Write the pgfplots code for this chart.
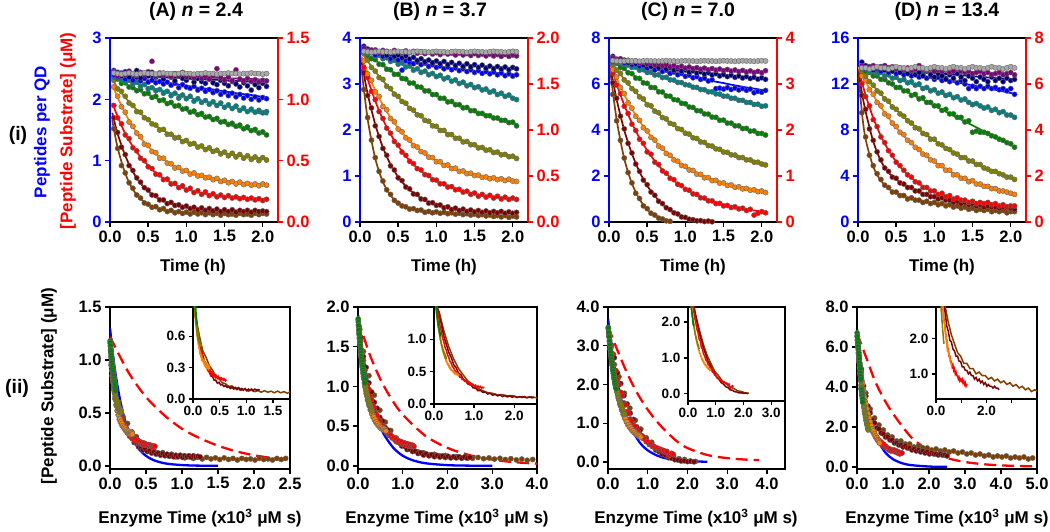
\documentclass[border=0pt]{standalone}
\usepackage{fontspec}
\setmainfont{Liberation Sans}
\usepackage{pgfplots}
\usepackage{pgfplotstable}
\pgfplotsset{compat=1.18}

\definecolor{cgr}{RGB}{170,170,170}
\definecolor{cpu}{RGB}{128,0,128}
\definecolor{cnv}{RGB}{0,0,128}
\definecolor{cbl}{RGB}{0,0,255}
\definecolor{cte}{RGB}{0,128,128}
\definecolor{cgn}{RGB}{0,128,0}
\definecolor{col}{RGB}{128,128,0}
\definecolor{cor}{RGB}{255,128,0}
\definecolor{crd}{RGB}{255,0,0}
\definecolor{cdr}{RGB}{128,0,0}
\definecolor{cbr}{RGB}{128,64,0}

\newcommand{\ticfont}{\fontsize{16.5}{17}\selectfont\bfseries}
\newcommand{\insfont}{\fontsize{13.5}{14}\selectfont\bfseries}
\newcommand{\labfont}{\fontsize{17}{18}\selectfont\bfseries}
\newcommand{\titfont}{\fontsize{19.5}{21}\selectfont\bfseries}

% ---------- Panel A (peptides per QD) ----------
\pgfplotstableread{
t gr pu nv bl te gn ol or rd dr br
0.05 2.43 2.45 2.47 2.40 2.37 2.36 2.31 2.20 1.90 1.70 1.52
0.10 2.42 2.38 2.44 2.36 2.35 2.33 2.17 2.05 1.70 1.46 1.20
0.15 2.41 2.43 2.38 2.41 2.32 2.26 2.13 1.88 1.60 1.22 0.92
0.20 2.42 2.40 2.45 2.33 2.29 2.27 2.05 1.79 1.42 1.10 0.80
0.25 2.43 2.46 2.36 2.37 2.31 2.20 1.94 1.63 1.36 0.92 0.64
0.30 2.42 2.41 2.42 2.31 2.25 2.19 1.90 1.56 1.21 0.84 0.55
0.35 2.41 2.39 2.47 2.36 2.28 2.14 1.80 1.45 1.16 0.72 0.44
0.40 2.42 2.44 2.35 2.30 2.21 2.16 1.79 1.39 1.04 0.65 0.39
0.45 2.43 2.40 2.41 2.34 2.24 2.09 1.70 1.27 1.00 0.56 0.31
0.50 2.42 2.45 2.38 2.28 2.17 2.10 1.67 1.25 0.90 0.52 0.29
0.55 2.42 2.62 2.44 2.31 2.19 2.03 1.60 1.15 0.87 0.44 0.24
0.60 2.41 2.38 2.36 2.27 2.14 2.05 1.58 1.13 0.78 0.43 0.25
0.65 2.42 2.43 2.40 2.29 2.16 1.98 1.50 1.04 0.77 0.36 0.20
0.70 2.43 2.39 2.33 2.25 2.10 1.99 1.51 1.04 0.69 0.36 0.22
0.75 2.42 2.41 2.41 2.28 2.13 1.93 1.43 0.96 0.70 0.30 0.17
0.80 2.42 2.37 2.36 2.23 2.06 1.95 1.43 0.95 0.62 0.32 0.19
0.85 2.41 2.42 2.30 2.26 2.10 1.89 1.37 0.88 0.63 0.27 0.15
0.90 2.42 2.38 2.39 2.19 2.02 1.90 1.38 0.89 0.56 0.28 0.17
0.95 2.43 2.44 2.34 2.24 2.07 1.84 1.31 0.83 0.59 0.24 0.14
1.00 2.42 2.36 2.31 2.20 2.01 1.85 1.33 0.84 0.52 0.26 0.16
1.05 2.42 2.40 2.37 2.18 2.05 1.79 1.27 0.78 0.55 0.22 0.13
1.10 2.41 2.35 2.28 2.21 1.97 1.81 1.28 0.80 0.48 0.24 0.16
1.15 2.42 2.39 2.34 2.15 2.01 1.75 1.22 0.75 0.51 0.20 0.13
1.20 2.42 2.34 2.29 2.18 1.95 1.77 1.24 0.76 0.45 0.23 0.15
1.25 2.43 2.37 2.26 2.13 1.98 1.71 1.18 0.72 0.49 0.19 0.12
1.30 2.42 2.33 2.33 2.16 1.92 1.72 1.21 0.73 0.43 0.22 0.15
1.35 2.42 2.38 2.27 2.11 1.96 1.67 1.15 0.69 0.46 0.18 0.12
1.40 2.41 2.50 2.24 2.14 1.90 1.69 1.17 0.71 0.41 0.21 0.14
1.45 2.42 2.35 2.31 2.08 1.94 1.63 1.11 0.66 0.44 0.17 0.11
1.50 2.42 2.31 2.26 2.12 1.87 1.64 1.14 0.68 0.40 0.20 0.14
1.55 2.43 2.36 2.22 2.06 1.91 1.59 1.08 0.64 0.43 0.17 0.12
1.60 2.42 2.30 2.29 2.10 1.85 1.61 1.12 0.66 0.39 0.20 0.13
1.65 2.42 2.48 2.25 2.04 1.89 1.56 1.06 0.62 0.41 0.16 0.11
1.70 2.41 2.33 2.20 2.08 1.82 1.58 1.10 0.65 0.38 0.19 0.14
1.75 2.42 2.30 2.27 2.02 1.86 1.52 1.04 0.61 0.40 0.17 0.12
1.80 2.42 2.34 2.22 2.06 1.80 1.55 1.08 0.63 0.37 0.19 0.13
1.85 2.43 2.29 2.15 2.00 1.84 1.49 1.02 0.60 0.39 0.16 0.11
1.90 2.42 2.32 2.24 2.04 1.79 1.51 1.06 0.62 0.36 0.19 0.14
1.95 2.42 2.28 2.19 1.99 1.82 1.45 1.00 0.59 0.38 0.17 0.12
2.00 2.41 2.31 2.26 2.03 1.78 1.47 1.05 0.62 0.35 0.18 0.14
2.05 2.42 2.30 2.21 2.01 1.80 1.42 1.01 0.60 0.37 0.17 0.13
}\dA
\pgfplotstableread{
t gr pu nv bl te gn ol or rd dr br
0.03 2.42 2.42 2.40 2.39 2.37 2.36 2.32 2.24 1.94 1.78 1.66
0.1 2.42 2.41 2.39 2.38 2.34 2.32 2.19 2.03 1.72 1.44 1.21
0.2 2.42 2.41 2.39 2.36 2.31 2.25 2.03 1.77 1.44 1.08 0.79
0.3 2.42 2.41 2.38 2.35 2.27 2.19 1.89 1.55 1.23 0.82 0.53
0.4 2.42 2.40 2.38 2.33 2.24 2.13 1.77 1.37 1.06 0.63 0.38
0.5 2.42 2.40 2.37 2.31 2.20 2.08 1.66 1.23 0.92 0.50 0.28
0.6 2.42 2.39 2.36 2.29 2.17 2.02 1.57 1.11 0.80 0.41 0.23
0.7 2.42 2.39 2.36 2.27 2.14 1.97 1.49 1.02 0.71 0.34 0.19
0.8 2.42 2.38 2.35 2.26 2.10 1.92 1.42 0.94 0.64 0.30 0.17
0.9 2.42 2.38 2.35 2.24 2.07 1.87 1.36 0.87 0.58 0.26 0.16
1.0 2.42 2.37 2.34 2.22 2.04 1.82 1.30 0.82 0.54 0.24 0.15
1.1 2.42 2.37 2.33 2.20 2.01 1.77 1.26 0.78 0.50 0.22 0.14
1.2 2.42 2.36 2.33 2.18 1.98 1.73 1.22 0.74 0.47 0.21 0.14
1.3 2.42 2.36 2.32 2.17 1.95 1.69 1.18 0.71 0.45 0.20 0.14
1.4 2.42 2.35 2.32 2.15 1.92 1.65 1.15 0.69 0.43 0.20 0.14
1.5 2.42 2.35 2.31 2.13 1.89 1.61 1.12 0.67 0.41 0.19 0.14
1.6 2.42 2.34 2.30 2.11 1.87 1.57 1.10 0.65 0.40 0.19 0.14
1.7 2.42 2.34 2.30 2.09 1.84 1.54 1.08 0.64 0.39 0.18 0.14
1.8 2.42 2.33 2.29 2.08 1.81 1.51 1.06 0.63 0.38 0.18 0.14
1.9 2.42 2.33 2.29 2.06 1.79 1.47 1.05 0.62 0.38 0.18 0.14
2.0 2.42 2.32 2.28 2.04 1.76 1.44 1.04 0.61 0.37 0.18 0.14
2.07 2.42 2.32 2.28 2.03 1.75 1.42 1.03 0.61 0.37 0.18 0.13
}\fA

% ---------- Panel B ----------
\pgfplotstableread{
t gr pu nv bl te gn ol or rd dr br
0.05 3.71 3.78 3.82 3.70 3.74 3.70 3.66 3.50 3.36 3.24 2.88
0.10 3.70 3.70 3.72 3.76 3.66 3.62 3.52 3.22 3.14 2.75 2.27
0.15 3.69 3.74 3.68 3.69 3.70 3.55 3.36 3.08 2.84 2.48 1.78
0.20 3.70 3.72 3.74 3.63 3.60 3.53 3.28 2.83 2.66 2.09 1.40
0.25 3.71 3.68 3.66 3.67 3.62 3.43 3.14 2.73 2.40 1.86 1.10
0.30 3.70 3.73 3.70 3.60 3.55 3.42 3.10 2.51 2.25 1.60 0.89
0.35 3.70 3.71 3.62 3.64 3.57 3.32 2.95 2.44 2.04 1.45 0.70
0.40 3.69 3.69 3.66 3.55 3.49 3.31 2.90 2.25 1.93 1.22 0.60
0.45 3.70 3.73 3.60 3.59 3.52 3.21 2.78 2.18 1.75 1.13 0.47
0.50 3.71 3.70 3.63 3.52 3.43 3.21 2.73 2.02 1.67 0.96 0.41
0.55 3.70 3.68 3.57 3.30 3.46 3.12 2.62 1.96 1.52 0.90 0.35
0.60 3.70 3.72 3.61 3.50 3.37 3.11 2.58 1.83 1.45 0.76 0.33
0.65 3.69 3.68 3.54 3.47 3.39 3.02 2.47 1.78 1.32 0.72 0.28
0.70 3.70 3.71 3.58 3.44 3.30 3.02 2.43 1.66 1.27 0.61 0.29
0.75 3.71 3.67 3.51 3.48 3.33 2.94 2.33 1.63 1.16 0.60 0.25
0.80 3.70 3.70 3.55 3.42 3.25 2.93 2.31 1.53 1.13 0.50 0.26
0.85 3.70 3.66 3.48 3.45 3.28 2.85 2.21 1.50 1.03 0.49 0.21
0.90 3.69 3.69 3.52 3.38 3.20 2.85 2.19 1.41 1.01 0.41 0.23
0.95 3.70 3.65 3.46 3.42 3.23 2.77 2.09 1.40 0.92 0.42 0.20
1.00 3.71 3.68 3.50 3.36 3.16 2.77 2.08 1.31 0.91 0.36 0.22
1.05 3.70 3.64 3.44 3.39 3.19 2.69 1.99 1.31 0.83 0.37 0.19
1.10 3.70 3.68 3.49 3.33 3.11 2.69 1.99 1.23 0.83 0.31 0.21
1.15 3.69 3.65 3.42 3.37 3.14 2.61 1.90 1.24 0.76 0.33 0.18
1.20 3.70 3.67 3.47 3.31 3.06 2.62 1.90 1.16 0.77 0.27 0.20
1.25 3.71 3.63 3.40 3.35 3.09 2.55 1.82 1.17 0.70 0.30 0.17
1.30 3.70 3.67 3.45 3.29 3.01 2.55 1.82 1.10 0.71 0.25 0.19
1.35 3.70 3.63 3.38 3.33 3.04 2.48 1.74 1.11 0.65 0.28 0.16
1.40 3.69 3.66 3.44 3.27 2.96 2.49 1.75 1.05 0.67 0.23 0.18
1.45 3.70 3.62 3.37 3.31 2.99 2.42 1.68 1.06 0.60 0.26 0.15
1.50 3.71 3.66 3.42 3.25 2.92 2.42 1.68 1.01 0.63 0.22 0.17
1.55 3.70 3.62 3.36 3.29 2.94 2.36 1.61 1.02 0.56 0.25 0.14
1.60 3.70 3.65 3.41 3.23 2.87 2.36 1.62 0.97 0.60 0.21 0.16
1.65 3.69 3.61 3.34 3.27 2.89 2.31 1.56 0.98 0.54 0.24 0.13
1.70 3.70 3.65 3.39 3.22 2.82 2.31 1.57 0.94 0.58 0.20 0.15
1.75 3.71 3.61 3.33 3.26 2.85 2.26 1.51 0.96 0.52 0.23 0.12
1.80 3.70 3.64 3.38 3.20 2.77 2.26 1.52 0.92 0.56 0.20 0.14
1.85 3.70 3.60 3.32 3.24 2.80 2.21 1.46 0.94 0.50 0.23 0.11
1.90 3.69 3.64 3.37 3.18 2.73 2.21 1.47 0.90 0.54 0.19 0.14
1.95 3.70 3.60 3.31 3.22 2.76 2.16 1.42 0.93 0.49 0.22 0.10
2.00 3.71 3.63 3.36 3.17 2.69 2.17 1.43 0.89 0.52 0.19 0.13
2.05 3.70 3.61 3.33 3.20 2.66 2.09 1.38 0.88 0.49 0.21 0.11
}\dB
\pgfplotstableread{
t gr pu nv bl te gn ol or rd dr br
0.02 3.70 3.72 3.74 3.74 3.74 3.73 3.70 3.60 3.57 3.49 3.33
0.1 3.70 3.72 3.72 3.71 3.69 3.63 3.50 3.25 3.11 2.79 2.24
0.2 3.70 3.71 3.69 3.66 3.63 3.51 3.27 2.86 2.63 2.12 1.38
0.3 3.70 3.71 3.66 3.62 3.57 3.40 3.07 2.54 2.23 1.62 0.87
0.4 3.70 3.70 3.63 3.58 3.51 3.29 2.88 2.27 1.91 1.25 0.58
0.5 3.70 3.70 3.61 3.55 3.45 3.19 2.71 2.04 1.65 0.98 0.40
0.6 3.70 3.69 3.58 3.51 3.40 3.09 2.56 1.85 1.43 0.78 0.32
0.7 3.70 3.69 3.56 3.48 3.34 3.00 2.41 1.68 1.25 0.63 0.27
0.8 3.70 3.68 3.53 3.45 3.29 2.91 2.29 1.55 1.11 0.52 0.24
0.9 3.70 3.68 3.51 3.42 3.23 2.83 2.17 1.43 0.99 0.43 0.22
1.0 3.70 3.67 3.49 3.39 3.18 2.75 2.06 1.33 0.89 0.38 0.21
1.1 3.70 3.67 3.47 3.36 3.13 2.67 1.97 1.25 0.81 0.33 0.20
1.2 3.70 3.66 3.45 3.34 3.08 2.60 1.88 1.18 0.75 0.29 0.19
1.3 3.70 3.66 3.43 3.32 3.03 2.53 1.80 1.12 0.69 0.27 0.18
1.4 3.70 3.65 3.42 3.30 2.98 2.47 1.73 1.07 0.65 0.25 0.17
1.5 3.70 3.65 3.40 3.28 2.93 2.40 1.66 1.03 0.61 0.24 0.16
1.6 3.70 3.64 3.39 3.26 2.89 2.34 1.60 0.99 0.58 0.23 0.15
1.7 3.70 3.64 3.38 3.25 2.84 2.29 1.55 0.96 0.56 0.22 0.14
1.8 3.70 3.63 3.37 3.24 2.79 2.24 1.50 0.94 0.54 0.22 0.13
1.9 3.70 3.63 3.36 3.22 2.75 2.19 1.45 0.92 0.52 0.21 0.13
2.0 3.70 3.62 3.35 3.21 2.71 2.14 1.41 0.90 0.51 0.21 0.12
2.07 3.70 3.62 3.34 3.20 2.68 2.12 1.39 0.89 0.50 0.21 0.12
}\fB

% ---------- Panel C ----------
\pgfplotstableread{
t gr pu nv bl te gn ol or rd dr br
0.05 7.02 7.15 7.20 7.06 7.10 6.95 6.85 6.62 6.48 6.05 5.55
0.10 7.00 7.04 7.08 6.99 6.95 6.90 6.60 6.30 5.95 5.38 4.40
0.15 6.99 7.10 6.98 7.03 6.94 6.72 6.46 5.85 5.58 4.60 3.55
0.20 7.00 6.98 7.04 6.92 6.84 6.68 6.18 5.58 5.03 4.05 2.78
0.25 7.01 7.03 6.93 6.96 6.82 6.49 6.05 5.18 4.72 3.42 2.15
0.30 7.00 6.94 6.98 6.84 6.72 6.45 5.80 4.95 4.25 3.00 1.70
0.35 7.00 7.00 6.88 6.90 6.73 6.26 5.68 4.60 3.98 2.52 1.25
0.40 6.99 6.91 6.92 6.77 6.60 6.24 5.44 4.42 3.60 2.20 1.02
0.45 7.00 6.96 6.82 6.83 6.62 6.05 5.35 4.10 3.42 1.82 0.70
0.50 7.01 6.87 6.86 6.69 6.50 6.03 5.10 3.96 3.05 1.62 0.58
0.55 7.00 6.92 6.76 6.75 6.51 5.85 5.05 3.68 2.95 1.30 0.38
0.60 7.00 6.83 6.81 6.61 6.39 5.84 4.82 3.56 2.60 1.16 0.30
0.65 6.99 6.88 6.71 6.67 6.40 5.66 4.75 3.30 2.50 0.90 0.17
0.70 7.00 6.79 6.76 6.54 6.28 5.65 4.54 3.21 2.22 0.80 0.13
0.75 7.01 6.84 6.66 6.60 6.29 5.48 4.48 2.98 2.12 0.62 0.05
0.80 7.00 6.75 6.70 6.46 6.18 5.47 4.29 2.90 1.90 0.54 0.03
0.85 7.00 6.80 6.60 6.52 6.17 5.32 4.24 2.70 1.84 0.40 nan
0.90 6.99 6.72 6.65 6.40 6.07 5.30 4.06 2.64 1.64 0.35 nan
0.95 7.00 6.77 6.56 6.46 6.06 5.16 4.02 2.46 1.58 0.22 nan
1.00 7.01 6.69 6.61 6.33 5.97 5.14 3.86 2.42 1.42 0.20 nan
1.05 7.00 6.74 6.51 6.39 5.95 5.00 3.82 2.26 1.38 0.12 nan
1.10 7.00 6.67 6.57 6.27 5.86 4.98 3.66 2.24 1.22 0.10 nan
1.15 6.99 6.71 6.47 6.32 5.85 4.84 3.63 2.08 1.20 0.05 nan
1.20 7.00 6.64 6.53 6.20 5.76 4.83 3.48 2.07 1.05 0.06 nan
1.25 7.01 6.69 6.43 6.25 5.75 4.70 3.46 1.92 1.04 0.02 nan
1.30 7.00 6.62 6.49 6.13 5.66 4.69 3.32 1.93 0.92 0.04 nan
1.35 7.00 6.67 6.39 6.18 5.66 4.56 3.30 1.80 0.92 0.01 nan
1.40 6.99 6.60 6.45 5.80 5.57 4.55 3.18 1.81 0.80 nan nan
1.45 7.00 6.65 6.35 5.82 5.56 4.42 3.16 1.69 0.81 nan nan
1.50 7.01 6.58 6.41 5.78 5.47 4.43 3.04 1.70 0.70 nan nan
1.55 7.00 6.63 6.32 5.84 5.47 4.30 3.03 1.59 0.72 nan nan
1.60 7.00 6.56 6.38 5.76 5.38 4.30 2.92 1.61 0.63 nan nan
1.65 6.99 6.61 6.29 5.82 5.38 4.18 2.91 1.51 0.66 nan nan
1.70 7.00 6.54 6.35 5.74 5.29 4.18 2.80 1.53 0.57 nan nan
1.75 7.01 6.59 6.26 5.80 5.29 4.06 2.80 1.44 0.60 nan nan
1.80 7.00 6.52 6.32 5.72 5.20 4.07 2.70 1.46 0.50 nan nan
1.85 7.00 6.57 6.24 5.78 5.20 3.95 2.70 1.38 0.55 nan nan
1.90 6.99 6.50 6.29 5.62 5.11 3.96 2.60 1.40 0.30 nan nan
1.95 7.00 6.55 6.21 5.68 5.12 3.85 2.60 1.32 0.38 nan nan
2.00 7.01 6.49 6.27 5.64 5.03 3.85 2.52 1.35 0.45 nan nan
2.05 7.00 6.58 6.20 5.72 5.05 3.78 2.48 1.28 0.40 nan nan
}\dC
\pgfplotstableread{
t gr pu nv bl te gn ol or rd dr br
0.02 7.00 7.09 7.09 7.08 7.08 7.05 7.00 6.90 6.85 6.70 6.47
0.1 7.00 7.06 7.04 7.02 6.98 6.86 6.64 6.26 6.00 5.33 4.45
0.2 7.00 7.01 6.98 6.94 6.86 6.63 6.21 5.54 5.08 3.99 2.75
0.3 7.00 6.97 6.93 6.87 6.75 6.41 5.82 4.92 4.30 2.97 1.68
0.4 7.00 6.93 6.87 6.79 6.63 6.20 5.47 4.39 3.65 2.18 0.99
0.5 7.00 6.90 6.82 6.72 6.52 6.00 5.14 3.93 3.11 1.58 0.55
0.6 7.00 6.86 6.77 6.64 6.41 5.80 4.85 3.53 2.65 1.13 0.28
0.7 7.00 6.82 6.72 6.57 6.30 5.62 4.57 3.18 2.26 0.77 0.11
0.8 7.00 6.79 6.67 6.50 6.20 5.44 4.32 2.88 1.94 0.51 0.00
0.9 7.00 6.76 6.62 6.43 6.09 5.27 4.09 2.62 1.67 0.33 nan
1.0 7.00 6.73 6.58 6.36 5.99 5.11 3.88 2.40 1.44 0.19 nan
1.1 7.00 6.70 6.54 6.29 5.89 4.95 3.69 2.21 1.25 0.09 nan
1.2 7.00 6.68 6.50 6.23 5.79 4.80 3.51 2.04 1.09 0.03 nan
1.3 7.00 6.65 6.46 6.16 5.69 4.66 3.35 1.90 0.96 0.00 nan
1.4 7.00 6.63 6.42 6.10 5.60 4.52 3.21 1.78 0.84 nan nan
1.5 7.00 6.61 6.38 6.04 5.50 4.40 3.07 1.67 0.74 nan nan
1.6 7.00 6.58 6.34 5.97 5.41 4.27 2.95 1.58 0.67 nan nan
1.7 7.00 6.57 6.31 5.91 5.32 4.15 2.83 1.50 0.60 nan nan
1.8 7.00 6.55 6.28 5.85 5.23 4.04 2.73 1.43 0.54 nan nan
1.9 7.00 6.53 6.25 5.80 5.14 3.93 2.63 1.37 0.50 nan nan
2.0 7.00 6.52 6.22 5.74 5.06 3.82 2.55 1.32 0.46 nan nan
2.07 7.00 6.51 6.20 5.70 5.00 3.76 2.50 1.29 0.44 nan nan
}\fC

% ---------- Panel D ----------
\pgfplotstableread{
t gr pu nv bl te gn ol or rd dr br
0.05 13.4 13.6 13.9 13.5 13.3 13.4 13.1 12.7 12.0 11.0 9.5
0.10 13.4 13.4 13.6 13.3 13.4 13.1 12.7 12.3 10.9 9.8 7.4
0.15 13.3 13.5 13.3 13.5 13.1 13.0 12.2 11.5 10.1 8.1 5.8
0.20 13.4 13.6 13.4 13.2 13.2 12.7 11.9 11.1 8.9 7.1 4.9
0.25 13.5 13.4 13.3 13.4 12.9 12.7 11.4 10.4 8.3 6.1 4.2
0.30 13.4 13.5 13.5 13.1 13.0 12.4 11.2 10.1 7.4 5.4 3.7
0.35 13.4 13.6 13.2 13.3 12.7 12.4 10.7 9.4 6.9 4.7 3.2
0.40 13.3 13.4 13.4 13.0 12.8 12.1 10.5 9.2 6.2 4.4 3.0
0.45 13.4 13.5 13.1 13.2 12.5 12.0 10.0 8.6 5.8 3.9 2.6
0.50 13.5 13.3 13.3 12.9 12.6 11.7 9.8 8.3 5.2 3.8 2.6
0.55 13.4 13.4 13.0 13.1 12.3 11.7 9.4 7.8 4.9 3.4 2.3
0.60 13.4 13.3 13.2 12.8 12.4 11.4 9.2 7.6 4.5 3.3 2.3
0.65 13.3 13.4 12.9 13.0 12.1 11.4 8.8 7.1 4.1 3.0 2.0
0.70 13.4 13.2 13.1 12.7 12.2 11.0 8.6 6.9 3.9 3.0 2.1
0.75 13.5 13.3 12.8 12.9 11.9 11.1 8.2 6.5 3.5 2.7 1.9
0.80 13.4 13.6 13.0 12.6 12.0 10.7 8.1 6.3 3.4 2.7 1.9
0.85 13.4 13.3 12.7 12.8 11.6 10.8 7.7 5.9 3.0 2.4 1.7
0.90 13.3 13.2 13.1 12.5 11.7 10.4 7.6 5.8 3.0 2.4 1.8
0.95 13.4 13.3 12.8 12.7 11.4 10.4 7.2 5.4 2.7 2.2 1.6
1.00 13.5 13.1 12.6 12.4 11.5 10.1 7.2 5.3 2.7 2.2 1.7
1.05 13.4 13.2 12.9 12.6 11.2 10.1 6.8 4.9 2.4 2.0 1.5
1.10 13.4 13.1 12.7 12.3 11.3 9.7 6.7 4.9 2.5 2.1 1.6
1.15 13.3 13.2 12.4 12.5 11.0 9.8 6.4 4.5 2.2 1.9 1.4
1.20 13.4 13.0 12.8 12.2 11.1 9.4 6.3 4.5 2.3 1.9 1.5
1.25 13.5 13.1 12.5 12.4 10.8 9.4 6.0 4.1 2.0 1.7 1.3
1.30 13.4 13.3 12.9 12.1 10.9 9.1 5.9 4.1 2.1 1.8 1.4
1.35 13.4 13.1 12.6 12.3 10.6 9.1 5.6 3.8 1.9 1.6 1.2
1.40 13.3 13.0 12.3 12.0 10.7 8.7 5.6 3.8 1.9 1.7 1.3
1.45 13.4 13.1 12.7 11.6 10.4 8.8 5.3 3.5 1.7 1.5 1.1
1.50 13.5 12.9 12.5 11.8 10.2 7.8 5.3 3.6 1.8 1.6 1.2
1.55 13.4 13.0 12.2 11.6 10.3 7.9 5.0 3.3 1.6 1.4 1.0
1.60 13.4 13.1 12.6 11.8 10.1 7.8 5.0 3.3 1.7 1.5 1.1
1.65 13.3 12.9 12.4 11.6 9.9 7.8 4.7 3.1 1.6 1.3 1.0
1.70 13.4 13.0 12.2 11.8 10.0 7.7 4.6 3.1 1.7 1.4 1.1
1.75 13.5 12.8 12.6 11.6 9.7 7.5 4.4 2.9 1.5 1.3 0.9
1.80 13.4 12.9 12.3 11.7 9.8 7.4 4.4 2.9 1.6 1.3 1.0
1.85 13.4 13.0 12.5 11.5 9.5 7.2 4.2 2.7 1.4 1.2 0.9
1.90 13.3 12.8 12.2 11.6 9.6 7.1 4.1 2.7 1.5 1.3 1.0
1.95 13.4 12.9 12.5 11.4 9.3 6.9 3.9 2.6 1.3 1.2 0.8
2.00 13.5 13.0 12.3 11.6 9.3 6.8 3.9 2.5 1.4 1.2 0.9
2.05 13.4 12.8 12.4 11.1 9.1 6.5 3.7 2.4 1.4 1.1 0.9
}\dD
\pgfplotstableread{
t gr pu nv bl te gn ol or rd dr br
0.00 13.4 13.5 13.5 13.5 13.5 13.5 13.5 13.5 13.5 13.5 13.5
0.05 13.4 13.49 13.47 13.45 13.40 13.33 13.07 12.84 12.2 11.3 9.6
0.1 13.4 13.47 13.45 13.41 13.29 13.16 12.64 12.20 11.02 9.6 7.2
0.2 13.4 13.44 13.39 13.32 13.08 12.82 11.85 11.03 9.04 7.0 4.8
0.3 13.4 13.41 13.34 13.22 12.87 12.48 11.10 9.99 7.47 5.3 3.6
0.4 13.4 13.38 13.28 13.12 12.66 12.14 10.41 9.06 6.23 4.3 2.9
0.5 13.4 13.35 13.23 13.02 12.45 11.80 9.76 8.22 5.24 3.7 2.5
0.6 13.4 13.32 13.17 12.92 12.24 11.46 9.15 7.49 4.45 3.25 2.2
0.7 13.4 13.29 13.12 12.81 12.03 11.12 8.57 6.82 3.82 2.9 2.0
0.8 13.4 13.26 13.06 12.70 11.82 10.78 8.04 6.22 3.32 2.6 1.85
0.9 13.4 13.23 13.01 12.59 11.61 10.44 7.55 5.69 2.92 2.35 1.72
1.0 13.4 13.20 12.95 12.48 11.40 10.10 7.09 5.21 2.61 2.15 1.6
1.1 13.4 13.17 12.90 12.36 11.19 9.76 6.65 4.79 2.37 2.0 1.5
1.2 13.4 13.14 12.84 12.25 10.98 9.42 6.25 4.41 2.16 1.85 1.4
1.3 13.4 13.11 12.79 12.13 10.77 9.08 5.87 4.07 2.01 1.72 1.3
1.4 13.4 13.08 12.73 12.00 10.56 8.74 5.52 3.77 1.88 1.62 1.2
1.5 13.4 13.05 12.68 11.88 10.35 8.40 5.19 3.49 1.78 1.52 1.12
1.6 13.4 13.02 12.62 11.75 10.14 8.06 4.88 3.25 1.69 1.45 1.06
1.7 13.4 12.99 12.57 11.62 9.93 7.72 4.60 3.03 1.61 1.38 1.00
1.8 13.4 12.96 12.51 11.49 9.72 7.38 4.32 2.84 1.54 1.32 0.96
1.9 13.4 12.93 12.46 11.36 9.51 7.04 4.08 2.66 1.48 1.27 0.93
2.0 13.4 12.90 12.40 11.22 9.30 6.70 3.84 2.50 1.43 1.22 0.90
2.07 13.4 12.88 12.36 11.12 9.15 6.46 3.68 2.41 1.40 1.20 0.89
}\fD

\pgfplotsset{
  dots/.style={only marks, mark=*, mark size=2.6pt,
    mark options={fill=#1, draw=black!60, line width=0.4pt}},
  fitl/.style={color=#1, line width=1.7pt, smooth, no markers},
  topax/.style={scale only axis, width=168pt, height=184pt, anchor=south west,
    xmin=0, xmax=2.2, ymin=0,
    separate axis lines,
    x axis line style={black, line width=1.8pt},
    y axis line style={blue, line width=1.8pt},
    xtick pos=left, ytick pos=left, tick align=outside,
    major tick length=5pt,
    every tick/.append style={line width=1.4pt, black},
    every y tick/.append style={blue},
    xtick={0,0.5,1,1.5,2}, xticklabels={0.0,0.5,1.0,1.5,2.0},
    ticklabel style={font=\ticfont},
    yticklabel style={blue}},
  topr/.style={scale only axis, width=168pt, height=184pt, anchor=south west,
    xmin=0, xmax=2.2, ymin=0,
    axis y line*=right, axis x line=none,
    y axis line style={red, line width=1.8pt},
    tick align=outside, major tick length=5pt,
    every tick/.append style={line width=1.4pt, red},
    yticklabel style={red, font=\ticfont},
    xtick=\empty},
  botax/.style={scale only axis, height=162pt, anchor=south west, xmin=0,
    axis line style={line width=1.8pt},
    xtick pos=left, ytick pos=left, tick align=outside,
    major tick length=5pt,
    every tick/.append style={line width=1.4pt, black},
    ticklabel style={font=\ticfont}},
  inax/.style={scale only axis, anchor=south west, xmin=0,
    axis background/.style={fill=white},
    axis line style={line width=1.6pt},
    xtick pos=left, ytick pos=left, tick align=outside,
    major tick length=4pt,
    every tick/.append style={line width=1.3pt, black},
    ticklabel style={font=\insfont}},
  bluefit/.style={color=blue, line width=2.3pt, no markers, smooth},
  reddash/.style={color=red, line width=2.3pt, no markers, smooth, dash pattern=on 12pt off 6pt},
}

\newcommand{\ser}[3]{\addplot[dots=c#3] table[x=t,y=#3]{#1};\addplot[fitl=c#3] table[x=t,y=#3]{#2};}
\newcommand{\topall}[2]{\ser{#1}{#2}{br}\ser{#1}{#2}{dr}\ser{#1}{#2}{rd}\ser{#1}{#2}{or}\ser{#1}{#2}{ol}\ser{#1}{#2}{gn}\ser{#1}{#2}{te}\ser{#1}{#2}{bl}\ser{#1}{#2}{nv}\ser{#1}{#2}{pu}\ser{#1}{#2}{gr}}
\newcommand{\bd}[3]{\addplot[dots=c#2] table[x expr=\thisrow{t}*#3, y expr=\thisrow{#2}*0.5]{#1};}
\newcommand{\il}[3]{\addplot[color=c#2, line width=1.5pt, no markers] table[x expr=\thisrow{t}*#3, y expr=\thisrow{#2}*0.5]{#1};}

\begin{document}
\begin{tikzpicture}
\useasboundingbox (0pt,0pt) rectangle (1050pt,532pt);

% ===================== Row (i) =====================
% A
\begin{axis}[topax, at={(110pt,310pt)}, ymax=3, ytick={0,1,2,3}, yticklabels={0,1,2,3}]
\topall{\dA}{\fA}
\end{axis}
\begin{axis}[topr, at={(110pt,310pt)}, ymax=1.5, ytick={0,0.5,1,1.5}, yticklabels={0.0,0.5,1.0,1.5}]
\end{axis}
% B
\begin{axis}[topax, at={(360pt,310pt)}, ymax=4, ytick={0,1,2,3,4}, yticklabels={0,1,2,3,4}]
\topall{\dB}{\fB}
\end{axis}
\begin{axis}[topr, at={(360pt,310pt)}, ymax=2, ytick={0,0.5,1,1.5,2}, yticklabels={0.0,0.5,1.0,1.5,2.0}]
\end{axis}
% C
\begin{axis}[topax, at={(609pt,310pt)}, ymax=8, ytick={0,2,4,6,8}, yticklabels={0,2,4,6,8}]
\topall{\dC}{\fC}
\end{axis}
\begin{axis}[topr, at={(609pt,310pt)}, ymax=4, ytick={0,1,2,3,4}, yticklabels={0,1,2,3,4}]
\end{axis}
% D
\begin{axis}[topax, at={(858pt,310pt)}, ymax=16, ytick={0,4,8,12,16}, yticklabels={0,4,8,12,16}]
\topall{\dD}{\fD}
\end{axis}
\begin{axis}[topr, at={(858pt,310pt)}, ymax=8, ytick={0,2,4,6,8}, yticklabels={0,2,4,6,8}]
\end{axis}

% ===================== Row (ii) =====================
% A
\begin{axis}[botax, at={(110pt,63pt)}, width=180pt, xmax=2.5, ymin=-0.03, ymax=1.5,
  xtick={0,0.5,1,1.5,2,2.5}, xticklabels={0.0,0.5,1.0,1.5,2.0,2.5},
  ytick={0,0.5,1,1.5}, yticklabels={0.0,0.5,1.0,1.5}]
\bd{\dA}{br}{1.22}\bd{\dA}{dr}{0.61}\bd{\dA}{rd}{0.305}\bd{\dA}{or}{0.152}\bd{\dA}{ol}{0.076}
\bd{\dA}{gn}{0.038}
\addplot[bluefit] coordinates {(0,1.3) (0.05,1.0) (0.1,0.77) (0.15,0.59) (0.2,0.45) (0.25,0.35) (0.3,0.27) (0.4,0.16) (0.5,0.094) (0.6,0.055) (0.7,0.033) (0.8,0.019) (1.0,0.007) (1.2,0.002) (1.5,0.0)};
\addplot[reddash] coordinates {(0,1.22) (0.25,0.89) (0.5,0.65) (0.75,0.48) (1.0,0.35) (1.25,0.26) (1.5,0.19) (1.75,0.137) (2.0,0.10) (2.25,0.073) (2.5,0.054)};
\end{axis}
\begin{axis}[inax, at={(193pt,133pt)}, width=97pt, height=92pt, xmax=1.82, ymin=0, ymax=0.88,
  xtick={0,0.5,1,1.5}, xticklabels={0.0,0.5,1.0,1.5}, ytick={0,0.3,0.6}, yticklabels={0.0,0.3,0.6}]
\il{\dA}{br}{1.22}\il{\dA}{dr}{0.61}\il{\dA}{rd}{0.305}\il{\dA}{or}{0.152}\il{\dA}{ol}{0.076}\il{\dA}{gn}{0.038}
\end{axis}
% B
\begin{axis}[botax, at={(358pt,63pt)}, width=179pt, xmax=4, ymin=-0.04, ymax=2,
  xtick={0,1,2,3,4}, xticklabels={0.0,1.0,2.0,3.0,4.0},
  ytick={0,0.5,1,1.5,2}, yticklabels={0.0,0.5,1.0,1.5,2.0}]
\bd{\dB}{br}{2.44}\bd{\dB}{dr}{1.22}\bd{\dB}{rd}{0.61}\bd{\dB}{or}{0.305}\bd{\dB}{ol}{0.152}
\bd{\dB}{gn}{0.076}
\addplot[bluefit] coordinates {(0,1.9) (0.1,1.45) (0.2,1.11) (0.3,0.84) (0.4,0.64) (0.5,0.49) (0.6,0.375) (0.8,0.22) (1.0,0.127) (1.2,0.074) (1.5,0.033) (2.0,0.0085) (2.5,0.002) (3.0,0.0)};
\addplot[reddash] coordinates {(0,1.85) (0.25,1.42) (0.5,1.09) (0.75,0.84) (1.0,0.645) (1.5,0.38) (2.0,0.226) (2.5,0.133) (3.0,0.078) (3.5,0.046) (4.0,0.027)};
\end{axis}
\begin{axis}[inax, at={(434pt,128pt)}, width=103pt, height=97pt, xmax=2.57, ymin=0, ymax=1.5,
  xtick={0,1,2}, xticklabels={0.0,1.0,2.0}, ytick={0,0.5,1}, yticklabels={0.0,0.5,1.0}]
\il{\dB}{br}{2.44}\il{\dB}{dr}{1.22}\il{\dB}{rd}{0.61}\il{\dB}{or}{0.305}\il{\dB}{ol}{0.152}\il{\dB}{gn}{0.076}
\end{axis}
% C
\begin{axis}[botax, at={(608pt,63pt)}, width=177pt, xmax=4.45, ymin=-0.18, ymax=4,
  xtick={0,1,2,3,4}, xticklabels={0.0,1.0,2.0,3.0,4.0},
  ytick={0,1,2,3,4}, yticklabels={0.0,1.0,2.0,3.0,4.0}]
\bd{\dC}{br}{2.75}\bd{\dC}{dr}{1.6}\bd{\dC}{rd}{0.8}\bd{\dC}{or}{0.4}\bd{\dC}{ol}{0.2}
\bd{\dC}{gn}{0.1}
\addplot[bluefit] coordinates {(0,3.7) (0.1,2.88) (0.2,2.24) (0.3,1.75) (0.4,1.36) (0.5,1.06) (0.6,0.83) (0.8,0.50) (1.0,0.30) (1.25,0.16) (1.5,0.087) (2.0,0.025) (2.5,0.007)};
\addplot[reddash] coordinates {(0,3.5) (0.25,2.85) (0.5,2.25) (0.75,1.75) (1.0,1.35) (1.25,1.02) (1.5,0.75) (1.75,0.52) (2.0,0.36) (2.5,0.18) (3.0,0.1) (3.5,0.06) (3.8,0.05)};
\end{axis}
\begin{axis}[inax, at={(688pt,131pt)}, width=97pt, height=94pt, xmax=3.5, ymin=-0.2, ymax=2.42,
  xtick={0,1,2,3}, xticklabels={0.0,1.0,2.0,3.0}, ytick={0,1,2}, yticklabels={0.0,1.0,2.0}]
\il{\dC}{br}{2.75}\il{\dC}{dr}{1.6}\il{\dC}{rd}{0.8}\il{\dC}{or}{0.4}\il{\dC}{ol}{0.2}\il{\dC}{gn}{0.1}
\end{axis}
% D
\begin{axis}[botax, at={(857pt,63pt)}, width=180pt, xmax=5, ymin=-0.1, ymax=8,
  xtick={0,1,2,3,4,5}, xticklabels={0.0,1.0,2.0,3.0,4.0,5.0},
  ytick={0,2,4,6,8}, yticklabels={0.0,2.0,4.0,6.0,8.0}]
\bd{\dD}{br}{2.44}\bd{\dD}{dr}{1.22}\bd{\dD}{rd}{0.61}\bd{\dD}{or}{0.305}\bd{\dD}{ol}{0.152}
\bd{\dD}{gn}{0.076}
\addplot[bluefit] coordinates {(0,6.9) (0.1,5.18) (0.2,3.90) (0.3,2.93) (0.4,2.20) (0.5,1.65) (0.6,1.24) (0.8,0.70) (1.0,0.39) (1.25,0.19) (1.5,0.095) (2.0,0.023) (2.5,0.005)};
\addplot[reddash] coordinates {(0,6.7) (0.25,5.5) (0.5,4.3) (0.75,3.4) (1.0,2.67) (1.5,1.5) (2.0,0.83) (2.5,0.45) (3.0,0.25) (3.5,0.14) (4.0,0.08) (4.5,0.05) (5.0,0.03)};
\end{axis}
\begin{axis}[inax, at={(936pt,133pt)}, width=101pt, height=92pt, xmax=4.0, ymin=0.29, ymax=2.89,
  xtick={0,1,2,3}, xticklabels={0.0,,2.0,}, ytick={1,2}, yticklabels={1.0,2.0}]
\il{\dD}{br}{2.44}\il{\dD}{dr}{1.22}\il{\dD}{rd}{0.61}\il{\dD}{or}{0.305}\il{\dD}{ol}{0.152}\il{\dD}{gn}{0.076}
\end{axis}

% ===================== Text =====================
\node[font=\titfont] at (196pt,521pt) {(A) \textit{n} = 2.4};
\node[font=\titfont] at (440pt,521pt) {(B) \textit{n} = 3.7};
\node[font=\titfont] at (688pt,521pt) {(C) \textit{n} = 7.0};
\node[font=\titfont] at (947pt,521pt) {(D) \textit{n} = 13.4};

\node[font=\titfont] at (18pt,397pt) {(i)};
\node[font=\titfont] at (17pt,144pt) {(ii)};

\node[font=\labfont, text=blue, rotate=90] at (42pt,400pt) {Peptides per QD};
\node[font=\labfont, text=red, rotate=90] at (68pt,401pt) {[Peptide Substrate] (μM)};
\node[font=\labfont, rotate=90] at (49pt,146pt) {[Peptide Substrate] (μM)};

\foreach \xc in {193,444,693,942} {\node[font=\labfont] at (\xc pt,265pt) {Time (h)};}
\foreach \xc in {200,447,696,947} {\node[font=\labfont] at (\xc pt,14pt) {Enzyme Time (x10\textsuperscript{3} μM s)};}
\end{tikzpicture}
\end{document}
